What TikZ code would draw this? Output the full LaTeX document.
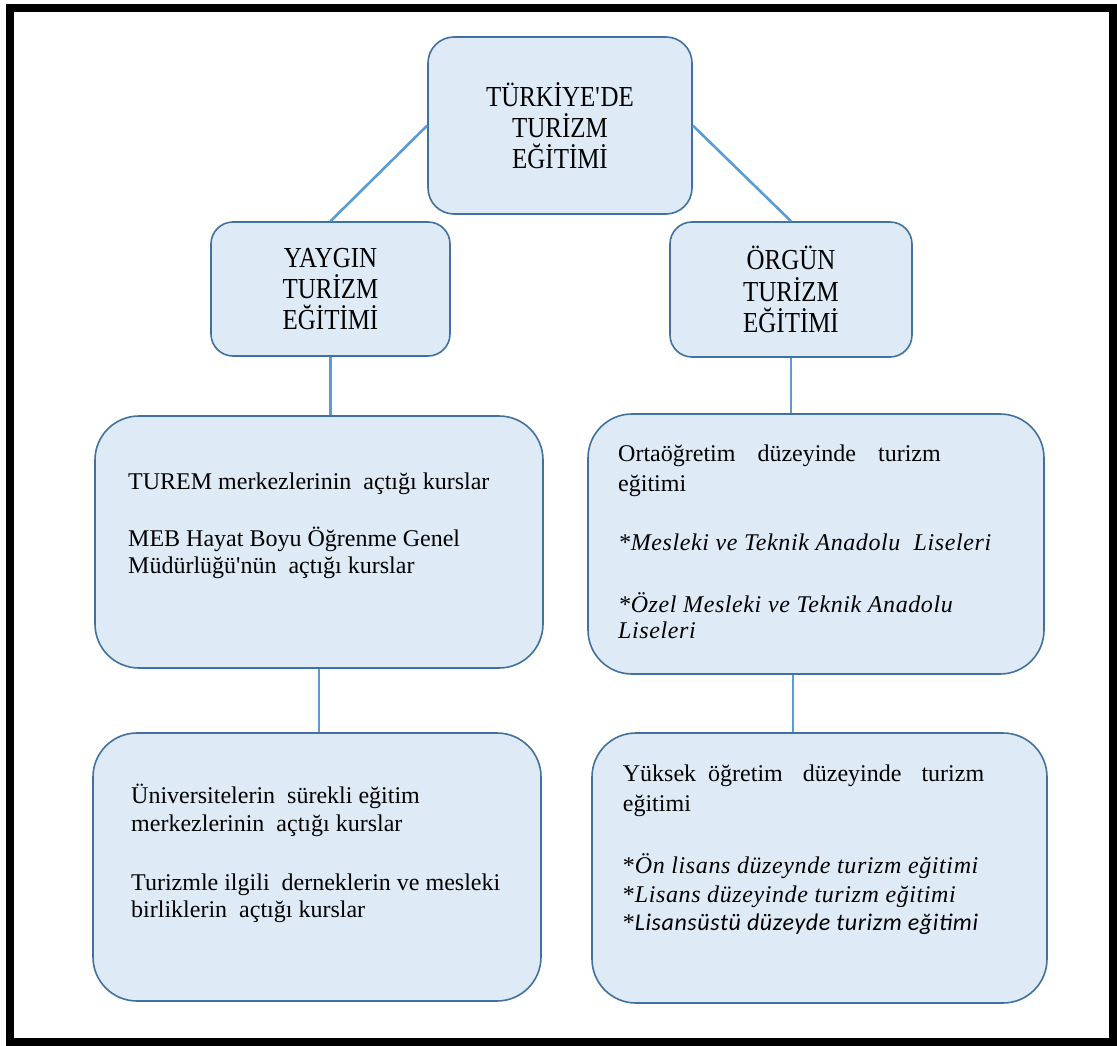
\documentclass[tikz,border=0pt]{standalone}
\usepackage{fontspec}
\setmainfont{Liberation Serif}
\newfontfamily\baslikfont{Liberation Serif}[FakeStretch=0.86]
\newfontfamily\calibri{Carlito}
\usepackage{xcolor}

\definecolor{boxfill}{RGB}{222,234,246}
\definecolor{boxline}{RGB}{65,113,156}
\definecolor{linkline}{RGB}{91,155,213}

\newcommand{\egik}[1]{{\itshape\addfontfeature{LetterSpace=2.5}#1}}

\tikzset{
  kutu/.style={draw=boxline, fill=boxfill, line width=1.6pt, inner sep=0pt},
  baslik/.style={kutu, rounded corners=26pt, align=center,
    font=\baslikfont\fontsize{29}{31.3}\selectfont},
  buyukkutu/.style={kutu, rounded corners=44pt},
  metin/.style={anchor=base west, inner sep=0pt, align=left,
    font=\fontsize{24}{28}\selectfont},
  bag/.style={draw=linkline, line width=2.6pt}
}

\begin{document}
\begin{tikzpicture}[x=1pt,y=-1pt]
\useasboundingbox (0,0) rectangle (1117,1046);

% cerceve
\draw[line width=8pt] (9.5,8.5) rectangle (1113,1042);

\node[baslik, minimum width=264pt, minimum height=177pt] (turkiye) at (560,125.5)
  {TÜRKİYE\textquotesingle DE\\TURİZM\\EĞİTİMİ};

\node[baslik, rounded corners=22pt, minimum width=239pt, minimum height=134pt] (yaygin) at (330.5,289)
  {YAYGIN\\TURİZM\\EĞİTİMİ};
\node[baslik, rounded corners=22pt, minimum width=242pt, minimum height=135pt] (orgun) at (791,289.5)
  {ÖRGÜN\\TURİZM\\EĞİTİMİ};

% orta kutular
\node[buyukkutu, minimum width=448pt, minimum height=252pt] (kurslar) at (319,542) {};
\node[buyukkutu, minimum width=456pt, minimum height=260pt] (ortaogretim) at (816,544) {};

% alt kutular
\node[buyukkutu, minimum width=448pt, minimum height=268pt] (universite) at (317,867) {};
\node[buyukkutu, minimum width=455pt, minimum height=270pt] (yuksek) at (819.5,868) {};

% baglantilar
\draw[bag] (turkiye.west) -- (yaygin.north);
\draw[bag] (turkiye.east) -- (orgun.north);
\draw[bag] (yaygin.south) -- (yaygin.south |- kurslar.north);
\draw[bag] (orgun.south) -- (orgun.south |- ortaogretim.north);
\draw[bag] (kurslar.south) -- (kurslar.south |- universite.north);
\draw[bag] (ortaogretim.south -| 793,0) -- (yuksek.north -| 793,0);

% yaygin metinleri
\node[metin] (turem) at (128,489.3) {TUREM merkezlerinin\ \ açtığı kurslar};
\node[metin, font=\fontsize{24}{27.3}\selectfont] (meb) at (128,573.3)
  {MEB Hayat Boyu Öğrenme Genel\\Müdürlüğü\textquotesingle nün\ \ açtığı kurslar};

\node[metin, font=\fontsize{24}{28.4}\selectfont] (surekli) at (131,831.7)
  {Üniversitelerin\ \ sürekli eğitim\\merkezlerinin\ \ açtığı kurslar};
\node[metin, font=\fontsize{24}{27.7}\selectfont] (dernek) at (131,917.7)
  {Turizmle ilgili\ \ derneklerin ve mesleki\\birliklerin\ \ açtığı kurslar};

% orgun metinleri
\node[metin, font=\fontsize{24}{30}\selectfont] (orta) at (618,491.7)
  {Ortaöğretim\hspace{22pt}düzeyinde\hspace{22pt}turizm\\eğitimi};
\node[metin] (mtal) at (618,550.7) {\egik{*Mesleki ve Teknik Anadolu\ \ Liseleri}};
\node[metin, font=\fontsize{24}{25.6}\selectfont] (ozel) at (618,638.3)
  {\egik{*Özel Mesleki ve Teknik Anadolu}\\\egik{Liseleri}};

\node[metin, font=\fontsize{24}{29.3}\selectfont] (yuksekmetin) at (622.7,811)
  {Yüksek\hspace{12pt}öğretim\hspace{20pt}düzeyinde\hspace{20pt}turizm\\eğitimi};
\node[metin, font=\fontsize{24}{28.7}\selectfont] (lisans) at (622.7,930.7)
  {*\egik{Ön lisans düzeynde turizm eğitimi}\\
   *\egik{Lisans düzeyinde turizm eğitimi}\\
   *{\calibri\itshape\addfontfeature{LetterSpace=2.5}Lisansüstü düzeyde turizm eğitimi}};

\end{tikzpicture}
\end{document}
